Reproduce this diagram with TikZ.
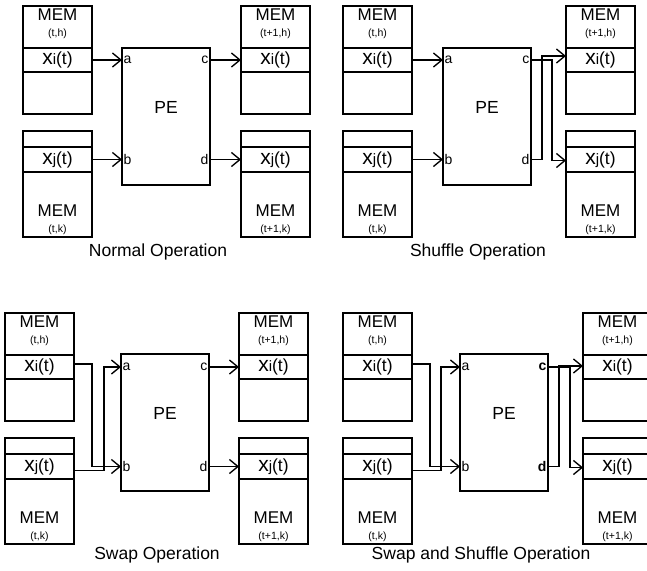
\documentclass[tikz,border=0pt]{standalone}
\usepackage{fontspec}
\setmainfont{Liberation Sans}
\usetikzlibrary{arrows.meta,positioning}
\tikzset{
    memcell/.style={draw,line width=1.35pt,minimum width=69pt,inner sep=0pt,outer sep=0pt},
    pebox/.style={draw,line width=1.35pt,minimum width=88pt,minimum height=137pt,
      inner sep=0pt,outer sep=0pt},
    memname/.style={inner sep=0pt,font=\fontsize{17}{17}\selectfont},
    memsub/.style={inner sep=0pt,font=\fontsize{10.5}{10.5}\selectfont},
    pename/.style={inner sep=0pt,font=\fontsize{17.5}{17.5}\selectfont},
    port/.style={inner sep=1.5pt,font=\fontsize{14}{14}\selectfont},
    boldport/.style={port,font=\fontsize{14}{14}\selectfont\bfseries},
    wire/.style={line width=1.35pt,-{Straight Barb[length=8.5pt,width=14pt]}},
    caption/.style={font=\fontsize{17.5}{17.5}\selectfont}
}
% x_i(t) / x_j(t) as printed in the rows
\newcommand{\xit}[1]{{\fontsize{21}{21}\selectfont x}{\fontsize{15}{15}\selectfont #1}{\fontsize{17.5}{17.5}\selectfont(t)}}
% memory with the row near the top: name, west x, top y, time
\newcommand{\memhi}[4]{%
  \node[memcell,minimum height=42pt,anchor=north west] (#1top) at (#2,#3) {};
  \node[memcell,minimum height=24pt,below=0pt of #1top] (#1) {\xit{i}};
  \node[memcell,minimum height=42pt,below=0pt of #1] (#1bot) {};
  \node[memname] (#1mem) at ([yshift=-9pt]#1top.north) {MEM};
  \node[memsub] (#1sub) at ([yshift=-28pt]#1top.north) {(#4,h)};
}
% memory with the row near the bottom
\newcommand{\memlo}[4]{%
  \node[memcell,minimum height=16pt,anchor=north west] (#1top) at (#2,#3) {};
  \node[memcell,minimum height=25pt,below=0pt of #1top] (#1) {\xit{j}};
  \node[memcell,minimum height=65pt,below=0pt of #1] (#1bot) {};
  \node[memname] (#1mem) at ([yshift=26pt]#1bot.south) {MEM};
  \node[memsub] (#1sub) at ([yshift=7.5pt]#1bot.south) {(#4,k)};
}

\begin{document}
\begin{tikzpicture}[x=1pt,y=-1pt]
  \clip (0,0) rectangle (647,570);

  % normal operation
  \memhi{l1i}{23}{6}{t}
  \memlo{l1j}{23}{131}{t}
  \memhi{r1i}{241}{6}{t+1}
  \memlo{r1j}{241}{131}{t+1}
  \node[pebox,anchor=north west] (pe1) at (122,48) {};
  \node[pename] (pe1l) at ([yshift=9pt]pe1.center) {PE};
  \node[port,anchor=west] (pe1a) at (pe1.west |- l1i) {a};
  \node[port,anchor=west] (pe1b) at (pe1.west |- l1j) {b};
  \node[port,anchor=east] (pe1c) at (pe1.east |- r1i) {c};
  \node[port,anchor=east] (pe1d) at (pe1.east |- r1j) {d};
  \draw[wire] (l1i.east) -- (pe1a.west);
  \draw[wire] (l1j.east) -- (pe1b.west);
  \draw[wire] (pe1c.east) -- (r1i.west);
  \draw[wire] (pe1d.east) -- (r1j.west);
  \node[caption] (cap1) at (158,252) {Normal Operation};

  % shuffle operation
  \memhi{l2i}{343}{6}{t}
  \memlo{l2j}{343}{131}{t}
  \memhi{r2i}{566}{6}{t+1}
  \memlo{r2j}{566}{131}{t+1}
  \node[pebox,anchor=north west] (pe2) at (443,48) {};
  \node[pename] (pe2l) at ([yshift=9pt]pe2.center) {PE};
  \node[port,anchor=west] (pe2a) at (pe2.west |- l2i) {a};
  \node[port,anchor=west] (pe2b) at (pe2.west |- l2j) {b};
  \node[port,anchor=east] (pe2c) at (pe2.east |- r2i) {c};
  \node[port,anchor=east] (pe2d) at (pe2.east |- r2j) {d};
  \draw[wire] (l2i.east) -- (pe2a.west);
  \draw[wire] (l2j.east) -- (pe2b.west);
  \draw[wire] (pe2c.east) -- ++(21,0) |- ([yshift=-1pt]r2j.west);
  \draw[wire] (pe2d.east) -- ++(11,0) |- ([yshift=4pt]r2i.west);
  \node[caption] (cap2) at (478,252) {Shuffle Operation};

  % swap operation
  \memhi{l3i}{5}{313}{t}
  \memlo{l3j}{5}{438}{t}
  \memhi{r3i}{239}{313}{t+1}
  \memlo{r3j}{239}{438}{t+1}
  \node[pebox,anchor=north west] (pe3) at (121,354) {};
  \node[pename] (pe3l) at ([yshift=9pt]pe3.center) {PE};
  \node[port,anchor=west] (pe3a) at (pe3.west |- l3i) {a};
  \node[port,anchor=west] (pe3b) at (pe3.west |- l3j) {b};
  \node[port,anchor=east] (pe3c) at (pe3.east |- r3i) {c};
  \node[port,anchor=east] (pe3d) at (pe3.east |- r3j) {d};
  \draw[wire] ([yshift=3pt]l3i.east) -- ++(18,0) |- (pe3b.west);
  \draw[wire] ([yshift=-4pt]l3j.east) -- ++(30,0) |- (pe3a.west);
  \draw[wire] (pe3c.east) -- (r3i.west);
  \draw[wire] (pe3d.east) -- (r3j.west);
  \node[caption] (cap3) at (157,555) {Swap Operation};

  % swap and shuffle operation
  \memhi{l4i}{343}{313}{t}
  \memlo{l4j}{343}{438}{t}
  \memhi{r4i}{583}{313}{t+1}
  \memlo{r4j}{583}{438}{t+1}
  \node[pebox,anchor=north west] (pe4) at (460,354) {};
  \node[pename] (pe4l) at ([yshift=9pt]pe4.center) {PE};
  \node[port,anchor=west] (pe4a) at (pe4.west |- l4i) {a};
  \node[port,anchor=west] (pe4b) at (pe4.west |- l4j) {b};
  \node[boldport,anchor=east] (pe4c) at (pe4.east |- r4i) {c};
  \node[boldport,anchor=east] (pe4d) at (pe4.east |- r4j) {d};
  \draw[wire] ([yshift=3pt]l4i.east) -- ++(18,0) |- (pe4b.west);
  \draw[wire] ([yshift=-4pt]l4j.east) -- ++(29,0) |- (pe4a.west);
  \draw[wire] (pe4c.east) -- ++(22,0) |- ([yshift=-1pt]r4j.west);
  \draw[wire] (pe4d.east) -- ++(11,0) |- ([yshift=1pt]r4i.west);
  \node[caption] (cap4) at (481,555) {Swap and Shuffle Operation};
\end{tikzpicture}
\end{document}
